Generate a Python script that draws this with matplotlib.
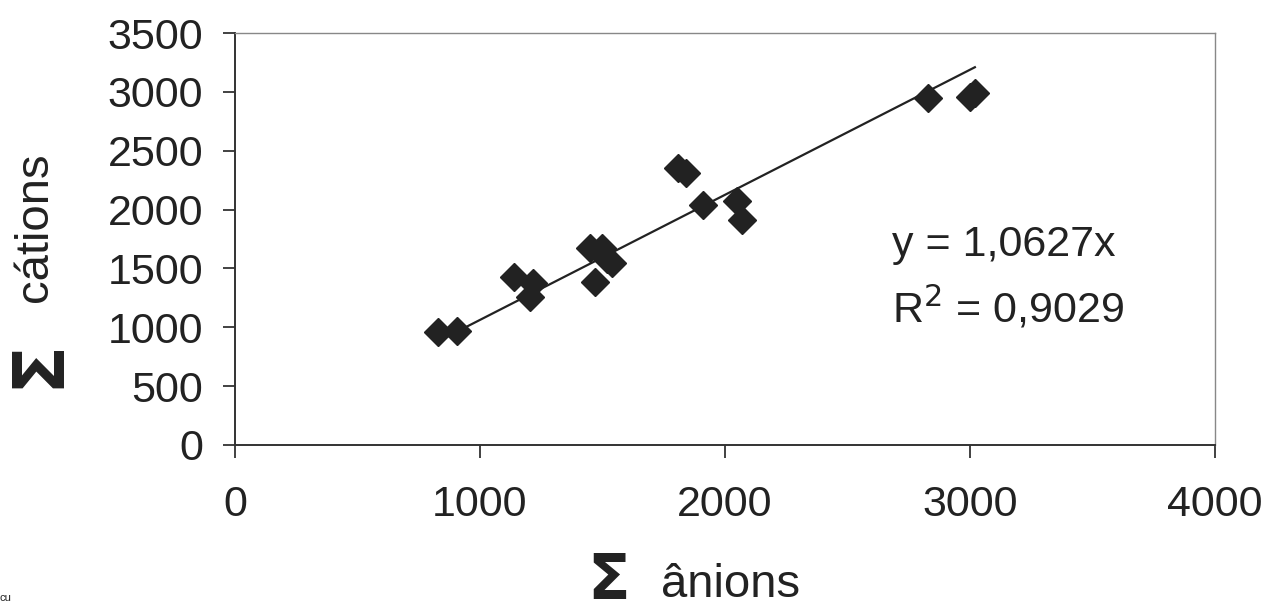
import numpy as np
import matplotlib.pyplot as plt

anions = [830, 905, 1140, 1215, 1205, 1450, 1500, 1470, 1540, 1520,
          1810, 1840, 1910, 2050, 2070, 2830, 3000, 3020]
cations = [960, 970, 1430, 1380, 1260, 1670, 1670, 1385, 1545, 1580,
           2350, 2310, 2035, 2075, 1915, 2950, 2960, 2990]
slope = 1.0627
xticks = [0, 1000, 2000, 3000, 4000]
yticks = [0, 500, 1000, 1500, 2000, 2500, 3000, 3500]

plt.rcParams['font.family'] = ['Liberation Sans', 'DejaVu Sans']
ink = '#222222'

fig = plt.figure(figsize=(12.66, 6.16), dpi=100)
ax = fig.add_axes([0.1856, 0.2776, 0.7741, 0.6688])

x = np.array(anions)
xl = np.array([x.min(), x.max()])
ax.plot(xl, slope * xl, color=ink, lw=1.6, zorder=2)
ax.plot(anions, cations, 'D', color=ink, ms=14, mec=ink, zorder=3)

ax.set_xlim(0, 4000)
ax.set_ylim(0, 3500)
ax.set_xticks(xticks)
ax.set_yticks(yticks)
ax.tick_params(direction='out', length=9, width=1.3, color='#333333',
               labelsize=31, labelcolor=ink)
ax.tick_params(axis='y', pad=14)
ax.tick_params(axis='x', pad=20)
for s in ['left', 'bottom']:
    ax.spines[s].set_color('#333333')
    ax.spines[s].set_linewidth(1.4)
for s in ['top', 'right']:
    ax.spines[s].set_color('#888888')
    ax.spines[s].set_linewidth(1.0)

ax.text(0.67, 0.485, 'y = 1,0627x', transform=ax.transAxes, fontsize=31,
        color=ink, va='center')
ax.text(0.67, 0.333, 'R$^2$ = 0,9029', transform=ax.transAxes, fontsize=31,
        color=ink, va='center')

# axis titles: big sigma + word
fig.text(0.031, 0.41, 'Σ', rotation=90, fontsize=52, fontweight='bold',
         family='DejaVu Sans', color=ink, ha='center', va='center')
fig.text(0.028, 0.631, 'cátions', rotation=90, fontsize=34, color=ink,
         ha='center', va='center')
fig.text(0.481, 0.028, 'Σ', fontsize=45, fontweight='bold',
         family='DejaVu Sans', color=ink, ha='center', va='baseline')
fig.text(0.577, 0.05, 'ânions', fontsize=34, color=ink,
         ha='center', va='center')
fig.text(0.0, 0.03, 'cu', fontsize=8, color=ink, ha='left', va='center')

fig.savefig('out.png', dpi=100)
